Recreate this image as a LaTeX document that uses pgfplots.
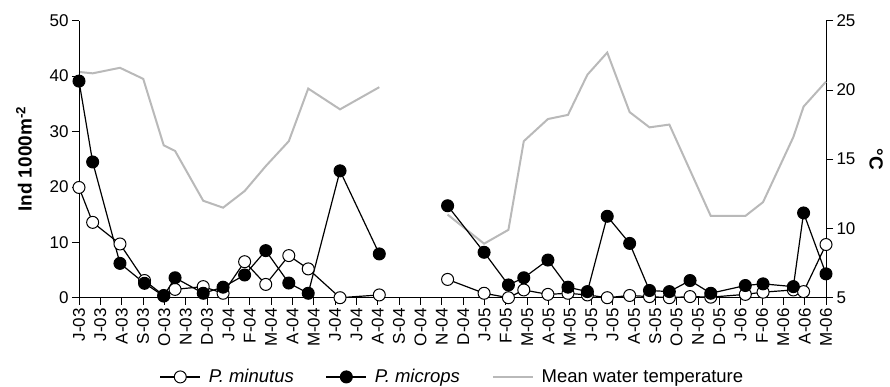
\documentclass[border=0pt]{standalone}
\usepackage{fontspec}
\setmainfont{Liberation Sans}
\usepackage{pgfplots}
\pgfplotsset{compat=1.18}
\definecolor{tempgray}{RGB}{185,185,185}
\begin{document}
\begin{tikzpicture}
\pgfplotsset{
  common/.style={
    scale only axis, width=747pt, height=277pt,
    xmin=0, xmax=35,
    /pgf/number format/assume math mode=true,
    tick label style={font=\fontsize{17}{20}\selectfont},
    tick align=outside, major tick length=7pt,
    tick style={black, line width=0.8pt},
    axis line style={black, line width=0.9pt, -},
    clip=false,
  },
}
% temperature (right axis), drawn first so markers sit on top
\begin{axis}[common,
  axis y line*=right, axis x line=none,
  ymin=5, ymax=25, ytick={5,10,15,20,25},
  ylabel={°C},
  ylabel style={font=\fontsize{19}{19}\selectfont\bfseries, at={(axis description cs:1.067,0.5)}, anchor=center, rotate=180},
  unbounded coords=jump,
]
\addplot[tempgray, line width=2pt] coordinates {
(0,21.3) (0.64,21.2) (1.92,21.6) (3.01,20.8) (3.97,16.0) (4.50,15.6) (5.82,12.0) (6.75,11.5) (7.76,12.7) (8.75,14.5) (9.83,16.3) (10.74,20.1) (12.23,18.6) (14.07,20.2)
(15.5,nan)
(17.27,11.0) (18.98,8.9) (20.12,9.9) (20.84,16.3) (21.97,17.9) (22.91,18.2) (23.82,21.1) (24.75,22.7) (25.80,18.4) (26.73,17.3) (27.66,17.5) (28.63,14.2) (29.60,10.9) (31.22,10.9) (32.05,11.9) (33.47,16.6) (33.95,18.8) (35.0,20.6)
};
\end{axis}
% abundances (left axis)
\begin{axis}[common,
  axis y line*=left, axis x line*=bottom,
  ymin=0, ymax=50, ytick={0,10,20,30,40,50},
  xtick={0,...,35},
  xticklabels={J-03,J-03,A-03,S-03,O-03,N-03,D-03,J-04,F-04,M-04,A-04,M-04,J-04,J-04,A-04,S-04,O-04,N-04,D-04,J-05,F-05,M-05,A-05,M-05,J-05,J-05,A-05,S-05,O-05,N-05,D-05,J-06,F-06,M-06,A-06,M-06},
  xticklabel style={rotate=90, anchor=east},
  ylabel={Ind 1000m\textsuperscript{-2}},
  ylabel style={font=\fontsize{19}{19}\selectfont\bfseries, at={(axis description cs:-0.0736,0.5)}, anchor=center},
  unbounded coords=jump,
  legend columns=3,
  legend style={draw=none, fill=none, at={(0.5,-0.286)}, anchor=center,
    font=\fontsize{18.5}{22}\selectfont,
    /tikz/every odd column/.append style={column sep=6pt},
    /tikz/every even column/.append style={column sep=30pt}},
  legend image code/.code={\draw[mark repeat=2,mark phase=2] plot coordinates {(0cm,0cm) (0.7cm,0cm) (1.4cm,0cm)};},
]
\addplot[black, line width=1.2pt, mark=*, mark size=6pt, mark options={fill=white, draw=black, line width=1pt}] coordinates {
(0,19.9) (0.64,13.6) (1.92,9.7) (3.07,3.1) (3.97,0.4) (4.50,1.5) (5.82,2.0) (6.75,0.8) (7.76,6.5) (8.75,2.4) (9.83,7.6) (10.74,5.2) (12.23,0) (14.07,0.5)
(15.5,nan)
(17.27,3.3) (18.98,0.8) (20.12,0) (20.84,1.4) (21.97,0.6) (22.91,0.8) (23.82,0.5) (24.75,0) (25.80,0.4) (26.73,0.2) (27.66,0) (28.63,0.2) (29.60,0.1) (31.22,0.6) (32.05,1.0) (33.47,1.4) (33.95,1.1) (35.0,9.6)
};
\addlegendentry{\textit{P. minutus}}
\addplot[black, line width=1.2pt, mark=*, mark size=6pt, mark options={fill=black, draw=black, line width=1pt}] coordinates {
(0,39.1) (0.64,24.5) (1.92,6.2) (3.07,2.6) (3.97,0.3) (4.50,3.6) (5.82,0.8) (6.75,1.9) (7.76,4.1) (8.75,8.5) (9.83,2.65) (10.74,0.8) (12.23,22.9) (14.07,7.9)
(15.5,nan)
(17.27,16.6) (18.98,8.2) (20.12,2.3) (20.84,3.6) (21.97,6.8) (22.91,1.9) (23.82,1.1) (24.75,14.7) (25.80,9.8) (26.73,1.3) (27.66,1.1) (28.63,3.1) (29.60,0.8) (31.22,2.2) (32.05,2.5) (33.47,2.0) (33.95,15.3) (35.0,4.3)
};
\addlegendentry{\textit{P. microps}}
\addlegendimage{tempgray, line width=2pt}
\addlegendentry{Mean water temperature}
\end{axis}
\pgfresetboundingbox
\path[use as bounding box] (current axis.south west) ++(-79pt,-88.3pt) rectangle ++(890pt,386pt);
\end{tikzpicture}
\end{document}
